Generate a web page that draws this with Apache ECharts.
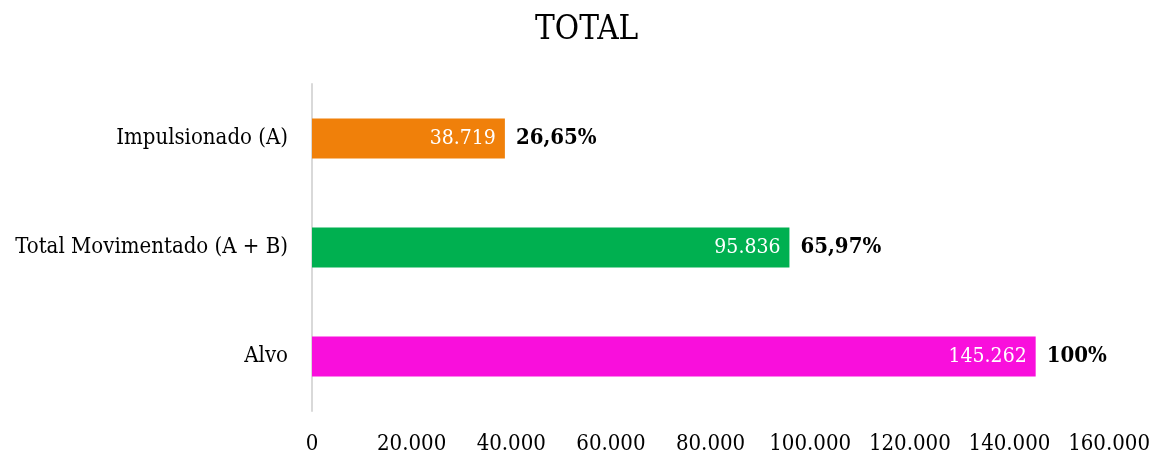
<!DOCTYPE html>
<html>
<head>
<meta charset="utf-8">
<script src="https://cdn.jsdelivr.net/npm/echarts@6/dist/echarts.min.js"></script>
<style>
  html, body { margin: 0; padding: 0; background: #fff; }
  #chart { width: 1153px; height: 455px; }
</style>
</head>
<body>
<div id="chart"></div>
<script>
const categories = ["Impulsionado (A)", "Total Movimentado (A + B)", "Alvo"];
const values = [38719, 95836, 145262];
const percentLabels = ["26,65%", "65,97%", "100%"];
const barColors = ["#f0800a", "#00b050", "#f90fdc"];

const font = "'DejaVu Serif Condensed', 'DejaVu Serif', serif";
const fmt = (v) => String(v).replace(/\B(?=(\d{3})+(?!\d))/g, ".");

const chart = echarts.init(document.getElementById("chart"));
chart.setOption({
  animation: false,
  title: {
    text: "TOTAL",
    left: 530,
    top: 9,
    textStyle: { fontFamily: font, fontSize: 33, fontWeight: "normal", color: "#000" },
  },
  grid: { left: 312, right: 43, top: 84, bottom: 42 },
  xAxis: {
    type: "value",
    min: 0,
    max: 160000,
    interval: 20000,
    axisLine: { show: false },
    axisTick: { show: false },
    splitLine: { show: false },
    axisLabel: {
      margin: 22,
      fontFamily: font,
      fontSize: 22,
      color: "#000",
      formatter: (v) => fmt(v),
    },
  },
  yAxis: {
    type: "category",
    data: categories,
    inverse: true,
    axisLine: { show: true, lineStyle: { color: "#d9d9d9", width: 2 } },
    axisTick: { show: false },
    axisLabel: { margin: 24, fontFamily: font, fontSize: 22, color: "#000" },
  },
  series: [
    {
      type: "bar",
      barWidth: 40,
      data: values.map((v, i) => ({ value: v, itemStyle: { color: barColors[i] } })),
      label: {
        show: true,
        position: "insideRight",
        distance: 9,
        fontFamily: font,
        fontSize: 21,
        color: "#fff",
        formatter: (p) => fmt(p.value),
      },
    },
    {
      type: "bar",
      barWidth: 40,
      barGap: "-100%",
      silent: true,
      data: values,
      itemStyle: { color: "transparent" },
      label: {
        show: true,
        position: "right",
        distance: 11,
        fontFamily: font,
        fontSize: 22,
        fontWeight: "bold",
        color: "#000",
        formatter: (p) => percentLabels[p.dataIndex],
      },
    },
  ],
});
</script>
</body>
</html>
